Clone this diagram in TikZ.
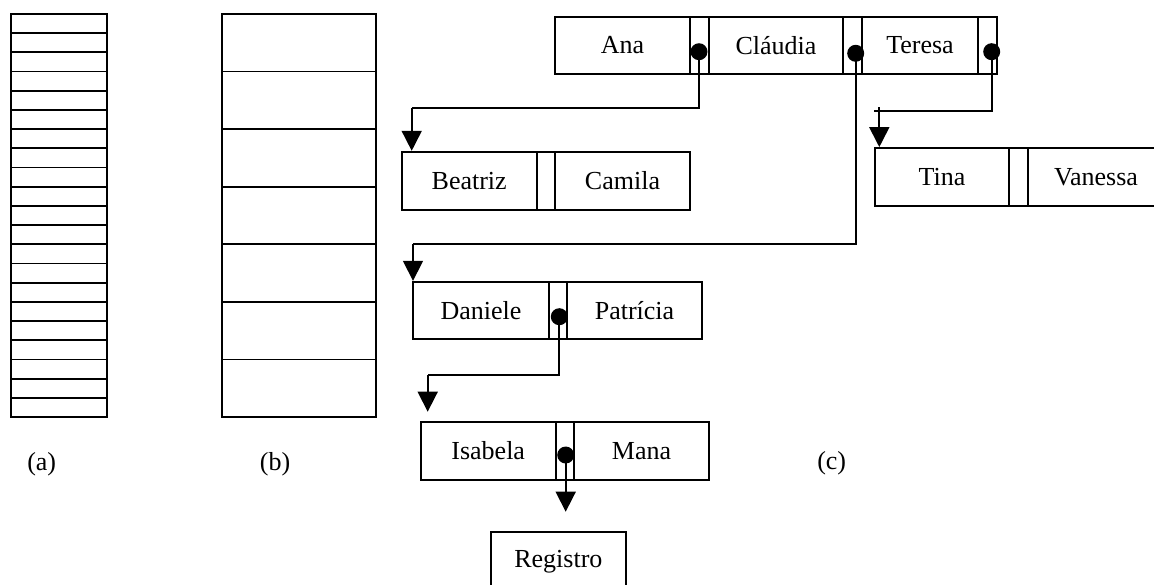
\documentclass[tikz,border=0pt]{standalone}
\usepackage{fontspec}
\setmainfont{Liberation Serif}
\usetikzlibrary{arrows.meta}
\begin{document}
\begin{tikzpicture}[x=1pt,y=-1pt,
  cell/.style={draw, line width=1.8pt, rectangle, inner sep=0pt, anchor=center},
  dot/.style={circle, fill=black, inner sep=0pt, minimum size=17pt},
  link/.style={line width=1.7pt},
  arr/.style={line width=1.7pt, -{Triangle[width=20pt,length=20pt]}},
  lbl/.style={inner sep=0pt},
  font=\fontsize{26}{30}\selectfont]
\useasboundingbox (0,0) rectangle (1154,584);
% (a)
\draw[line width=1.8pt] (10.7,14) rectangle (107,417);
\foreach \i in {1,...,20}{\draw[line width=1.8pt] (10.7,{14+\i*403/21}) -- (107,{14+\i*403/21});}
% (b)
\draw[line width=1.8pt] (222,14) rectangle (375.7,417);
\foreach \i in {1,...,6}{\draw[line width=1.8pt] (222,{14+\i*403/7}) -- (375.7,{14+\i*403/7});}
% top row
\node[cell, minimum width=135pt, minimum height=57.3pt] (ana) at (622.5,45.35) {Ana};
\node[cell, minimum width=19pt, minimum height=57.3pt] (p1) at (699.5,45.35) {};
\node[cell, minimum width=134pt, minimum height=57.3pt] (claudia) at (776,45.35) {Cláudia};
\node[cell, minimum width=19pt, minimum height=57.3pt] (p2) at (852.5,45.35) {};
\node[cell, minimum width=116pt, minimum height=57.3pt] (teresa) at (920,45.35) {Teresa};
\node[cell, minimum width=19pt, minimum height=57.3pt] (p3) at (987.5,45.35) {};
% Beatriz row
\node[cell, minimum width=135pt, minimum height=58.3pt] (beatriz) at (469.2,180.85) {Beatriz};
\node[cell, minimum width=18.3pt, minimum height=58.3pt] (p4) at (545.85,180.85) {};
\node[cell, minimum width=135pt, minimum height=58.3pt] (camila) at (622.5,180.85) {Camila};
% Tina row
\node[cell, minimum width=134pt, minimum height=58pt] (tina) at (942,177) {Tina};
\node[cell, minimum width=19pt, minimum height=58pt] (p5) at (1018.5,177) {};
\node[cell, minimum width=136pt, minimum height=58pt] (vanessa) at (1096,177) {Vanessa};
% Daniele row
\node[cell, minimum width=136pt, minimum height=57.3pt] (daniele) at (481,310.35) {Daniele};
\node[cell, minimum width=18pt, minimum height=57.3pt] (p6) at (558,310.35) {};
\node[cell, minimum width=135pt, minimum height=57.3pt] (patricia) at (634.5,310.35) {Patrícia};
% Isabela row
\node[cell, minimum width=135pt, minimum height=58pt] (isabela) at (488.2,451) {Isabela};
\node[cell, minimum width=18.3pt, minimum height=58pt] (p7) at (564.85,451) {};
\node[cell, minimum width=135pt, minimum height=58pt] (mana) at (641.5,451) {Mana};
% Registro
\node[cell, minimum width=134.7pt, minimum height=58pt] (registro) at (558.35,561.3) {Registro};
% connectors
\coordinate (b1) at (411.7,108);
\coordinate (c1) at (413,244);
\coordinate (t1) at (874,110.7);
\coordinate (t2) at (879.3,107);
\coordinate (e1) at (427.7,375);
\coordinate (e2) at (427.7,411.7);
\coordinate (f1) at (565.7,511.7);
\node[dot] (d1) at (699,51.7) {};
\node[dot] (d2) at (855.7,53.3) {};
\node[dot] (d3) at (991.7,51.7) {};
\node[dot] (d4) at (559.3,316.7) {};
\node[dot] (d5) at (565.7,455) {};
\draw[link] (d1.center) |- (b1);
\draw[arr] (b1) -- (b1 |- beatriz.north);
\draw[link] (d2.center) |- (c1);
\draw[arr] (c1) -- (c1 |- daniele.north);
\draw[link] (d3.center) |- (t1);
\draw[arr] (t2) -- (t2 |- tina.north);
\draw[link] (d4.center) |- (e1);
\draw[arr] (e1) -- (e2);
\draw[arr] (d5.center) -- (f1);
% labels
\node[lbl] (la) at (41.7,464) {(a)};
\node[lbl] (lb) at (275,464) {(b)};
\node[lbl] (lc) at (831.7,463) {(c)};
\end{tikzpicture}
\end{document}
